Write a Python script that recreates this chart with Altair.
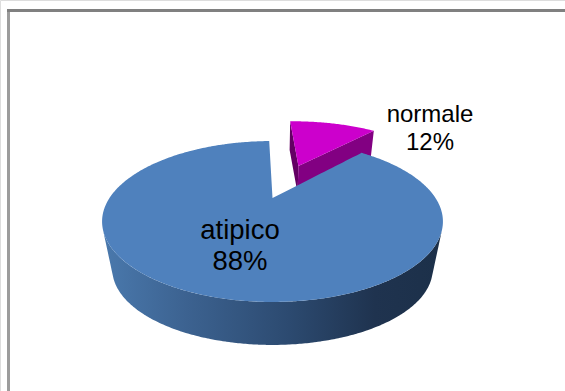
import numpy as np
import pandas as pd
import altair as alt

# Pie contents
labels = ["atipico", "normale"]
shares = [88, 12]
label_sizes = [27.5, 24]
label_centres = [(240, 231, 262), (430, 115, 143)]

# Colours
TOP_BLUE = "#4f81bd"
TOP_MAGENTA = "#cc00cc"
WALL_MAGENTA = "#820082"
EDGE_MAGENTA = "#640064"
FRAME_TOP = "#808080"
FRAME_LEFT = "#9c9c9c"
wall_stops = [(0.0, "#4a79ad"), (0.25, "#3c6290"), (0.55, "#2c4a70"), (0.8, "#1f334f"), (1.0, "#1c3049")]

# Camera: the pie lies on a unit disc seen in perspective
CX, CY0, TILT, GAIN_Y, GAIN_X = 272.5, 198.0, -0.292, 15.8, 163.0
VANISH_Y = 1018.0
START_DEG = -1.5
EXPLODE = 0.53
BODY_SCALE, SLICE_SCALE = 0.94, 0.968


def project(px, py):
    denom = 1 + TILT * py
    return CX + GAIN_X * px / denom, (CY0 + GAIN_Y * py) / denom


def disc_point(deg, dx=0.0, dy=0.0):
    rad = np.radians(deg)
    return project(np.sin(rad) + dx, -np.cos(rad) + dy)


def extrude(pts, scale):
    x, y = np.asarray(pts).T
    return np.column_stack([CX + scale * (x - CX), VANISH_Y + scale * (y - VANISH_Y)])


def lower_chain(pts):
    """Outer lower boundary (largest screen y) of a point cloud, left to right."""
    chain = []
    for p in sorted(map(tuple, np.asarray(pts))):
        while len(chain) >= 2:
            (ax, ay), (bx, by) = chain[-2], chain[-1]
            if (bx - ax) * (p[1] - ay) - (by - ay) * (p[0] - ax) >= 0:
                chain.pop()
            else:
                break
        chain.append(p)
    return np.array(chain)


def band(points):
    """Turn a closed outline into px / upper / lower rows for an area mark."""
    pts = np.asarray(points)
    nxt = np.roll(pts, -1, axis=0)
    rows = []
    for x in np.unique(np.round(pts[:, 0], 2)):
        ys = []
        for (x0, y0), (x1, y1) in zip(pts, nxt):
            lo, hi = min(x0, x1), max(x0, x1)
            if lo - 0.01 <= x <= hi + 0.01:
                if abs(x1 - x0) < 1e-6:
                    ys += [y0, y1]
                else:
                    t = np.clip((x - x0) / (x1 - x0), 0, 1)
                    ys.append(y0 + t * (y1 - y0))
        rows.append({"px": float(x), "upper": float(min(ys)), "lower": float(max(ys))})
    return pd.DataFrame(rows)


total = sum(shares)
sweep_small = 360 * shares[1] / total
mid = START_DEG + sweep_small / 2
ex, ey = EXPLODE * np.sin(np.radians(mid)), -EXPLODE * np.cos(np.radians(mid))

# Large slice: top face and the curved wall in front of it
big_deg = np.linspace(START_DEG + sweep_small, START_DEG + 360, 320)
big_arc = np.column_stack(disc_point(big_deg))
big_top = np.vstack([[project(0.0, 0.0)], big_arc])
right, left = big_arc[:, 0].argmax(), big_arc[:, 0].argmin()
front = big_arc[right:left + 1]
outer = lower_chain(np.vstack([front, extrude(front, BODY_SCALE)]))
big_wall = np.vstack([front, outer])

# Small slice: pulled out of the pie along its middle angle
small_deg = np.linspace(START_DEG, START_DEG + sweep_small, 60)
small_arc = np.column_stack(disc_point(small_deg, ex, ey))
apex = np.array(project(ex, ey))
small_top = np.vstack([[apex], small_arc])
inner_edge = np.vstack([apex, small_arc[-1]])
left_edge = np.vstack([small_arc[0], apex])
small_wall = np.vstack([inner_edge, extrude(inner_edge, SLICE_SCALE)[::-1]])
small_side = np.vstack([left_edge, extrude(left_edge, SLICE_SCALE)[::-1]])

x_scale = alt.Scale(domain=[0, 565], range=[0, 565], nice=False, zero=False)
y_scale = alt.Scale(domain=[0, 391], range=[0, 391], nice=False, zero=False)


def face(points, fill):
    return alt.Chart(band(points)).mark_area(color=fill, orient="vertical").encode(
        x=alt.X("px:Q", scale=x_scale, axis=None),
        y=alt.Y("upper:Q", scale=y_scale, axis=None),
        y2=alt.Y2("lower:Q"),
    )


wall_fill = alt.Gradient(
    gradient="linear",
    x1=0, x2=1, y1=0, y2=0,
    stops=[alt.GradientStop(offset=o, color=c) for o, c in wall_stops],
)

label_rows = []
for name, share, size, (lx, y1, y2) in zip(labels, shares, label_sizes, label_centres):
    label_rows.append({"t": name, "x": lx, "y": y1, "s": size})
    label_rows.append({"t": f"{share}%", "x": lx, "y": y2, "s": size})

text = alt.Chart(pd.DataFrame(label_rows)).mark_text(
    font="Liberation Sans", color="#000000", baseline="middle", align="center"
).encode(
    x=alt.X("x:Q", scale=x_scale, axis=None),
    y=alt.Y("y:Q", scale=y_scale, axis=None),
    text="t:N",
    size=alt.Size("s:Q", scale=None, legend=None),
)

frame_top = alt.Chart(pd.DataFrame({"a": [0]})).mark_rule(color=FRAME_TOP, strokeWidth=3).encode(
    x=alt.value(7), x2=alt.value(565), y=alt.value(10.5)
)
frame_left = alt.Chart(pd.DataFrame({"a": [0]})).mark_rule(color=FRAME_LEFT, strokeWidth=3).encode(
    x=alt.value(8.5), y=alt.value(9), y2=alt.value(391)
)

chart = alt.layer(
    face(small_side, EDGE_MAGENTA),
    face(small_wall, WALL_MAGENTA),
    face(small_top, TOP_MAGENTA),
    face(big_wall, wall_fill),
    face(big_top, TOP_BLUE),
    text,
    frame_left,
    frame_top,
).properties(
    width=565, height=391, padding=0, autosize=alt.AutoSizeParams(type="none")
).configure_view(stroke=None).configure(background="#ffffff")

chart.save("out.html", embed_options={"renderer": "svg", "actions": False})
